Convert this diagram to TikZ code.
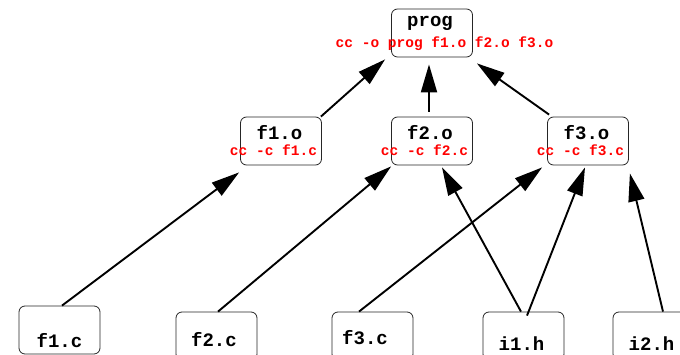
\documentclass[tikz,border=0pt]{standalone}
\usepackage{fontspec}
\setmonofont{Liberation Mono}
\usetikzlibrary{calc,arrows.meta}
\begin{document}
\begin{tikzpicture}[x=1pt,y=-1pt,
  box/.style={draw=black!85,line width=0.8pt,rounded corners=6pt,minimum width=81pt,minimum height=48pt,inner sep=0pt},
  lbl/.style={anchor=base,inner sep=0pt,font=\ttfamily\bfseries\fontsize{19}{19}\selectfont},
  cmd/.style={anchor=base,inner sep=0pt,text=red,font=\ttfamily\bfseries\fontsize{14.5}{14.5}\selectfont},
  arr/.style={line width=1.9pt,-{Triangle[length=28pt,width=16pt]}}]
\useasboundingbox (0,0) rectangle (680,355);
\clip (0,0) rectangle (680,355);
\node[box] (prog) at (432,33) {};
\node[box] (f1o) at (281,141) {};
\node[box] (f2o) at (432,141) {};
\node[box] (f3o) at (588,141) {};
\node[box] (f1c) at (59.5,330) {};
\node[box] (f2c) at (216.5,336) {};
\node[box] (f3c) at (372.5,336) {};
\node[box] (i1h) at (523.5,336) {};
\node[box] (i2h) at (653.5,336) {};
\node[lbl] (tprog) at (430,26.7) {prog};
\node[cmd] (cprog) at (444.5,47.3) {cc -o prog f1.o f2.o f3.o};
\node[lbl] (tf1o) at (279.5,139.3) {f1.o};
\node[cmd] (cf1o) at (273.5,155.7) {cc -c f1.c};
\node[lbl] (tf2o) at (430,139.3) {f2.o};
\node[cmd] (cf2o) at (424.5,155.7) {cc -c f2.c};
\node[lbl] (tf3o) at (586.5,139.3) {f3.o};
\node[cmd] (cf3o) at (580.5,155.7) {cc -c f3.c};
\node[lbl] (tf1c) at (59.5,348) {f1.c};
\node[lbl] (tf2c) at (214,346) {f2.c};
\node[lbl] (tf3c) at (365,344.5) {f3.c};
\node[lbl] (ti1h) at (521.5,350) {i1.h};
\node[lbl] (ti2h) at (651.5,350) {i2.h};
\draw[arr] ($(f1c.north)+(2.5,0)$) -- ($(f1o.south west)+(-1,7)$);
\draw[arr] ($(f2c.north)+(1.5,0)$) -- ($(f2o.south west)+(0,1)$);
\draw[arr] ($(f3c.north)+(-13.5,0)$) -- ($(f3o.south west)+(-5,2)$);
\draw[arr] ($(i1h.north)+(-2.5,0)$) -- ($(f2o.south)+(10,2)$);
\draw[arr] ($(i1h.north)+(3.5,4)$) -- ($(f3o.south)+(-3,2)$);
\draw[arr] ($(i2h.north)+(9.5,0)$) -- ($(f3o.south east)+(1,8)$);
\draw[arr] ($(f1o.north east)+(-1,0)$) -- ($(prog.south west)+(-6,2)$);
\draw[arr] ($(f2o.north)+(-3,-5)$) -- ($(prog.south)+(-3,7)$);
\draw[arr] ($(f3o.north west)+(2,-2)$) -- ($(prog.south east)+(4,6)$);
\end{tikzpicture}
\end{document}
